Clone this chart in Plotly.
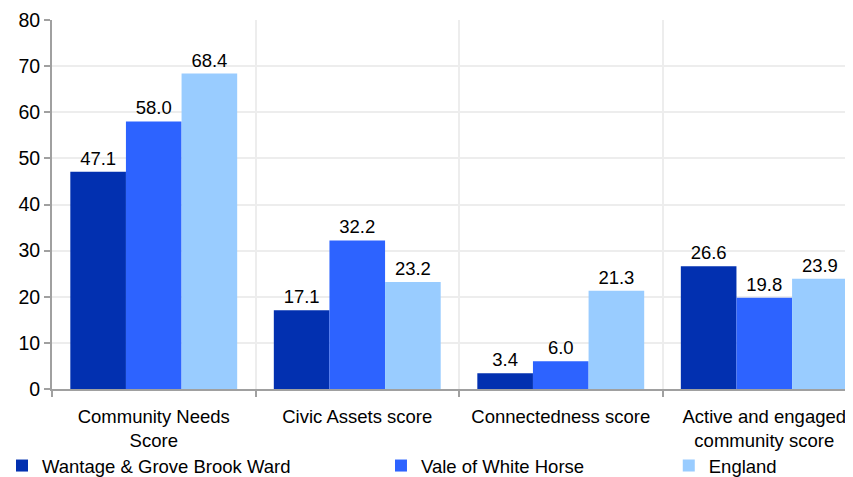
import plotly.graph_objects as go

# Categories and series values
categories = ["Community Needs<br>Score", "Civic Assets score", "Connectedness score",
              "Active and engaged<br>community score"]
ward = [47.1, 17.1, 3.4, 26.6]
vale = [58.0, 32.2, 6.0, 19.8]
england = [68.4, 23.2, 21.3, 23.9]

series = [
    ("Wantage & Grove Brook Ward", ward, "#0230B0", "legend", -0.0624),
    ("Vale of White Horse", vale, "#2D63FF", "legend2", 0.4107),
    ("England", england, "#99CCFF", "legend3", 0.770),
]

font = dict(family="Liberation Sans, Arial, sans-serif", size=18.5, color="#000000")

fig = go.Figure()
for name, vals, color, leg, _ in series:
    fig.add_trace(go.Bar(
        x=categories, y=vals, name=name, legend=leg,
        marker=dict(color=color, line=dict(width=0)),
        text=[f"{v:.1f}" for v in vals], textposition="outside",
        textfont=dict(size=18.5, color="#000000"), cliponaxis=False,
    ))

legends = {}
for name, vals, color, leg, lx in series:
    legends[leg] = dict(x=lx, y=-0.2087, xanchor="left", yanchor="middle",
                        orientation="h", font=font, bgcolor="rgba(0,0,0,0)")

# the page body adds an 8px offset, so the figure is 8px smaller than the window
fig.update_layout(
    width=845, height=469,
    margin=dict(l=44, r=0, t=12, b=88, autoexpand=False),
    paper_bgcolor="white", plot_bgcolor="white",
    font=font,
    barmode="group", bargap=0.18, bargroupgap=0,
    showlegend=True,
    **legends,
)
fig.update_xaxes(
    type="category", range=[-0.5, 3.436], tickson="boundaries",
    showgrid=True, gridcolor="#EDEDED", gridwidth=2,
    showline=True, linecolor="#A0A0A0", linewidth=2,
    ticks="outside", ticklen=6, tickcolor="#A0A0A0", tickwidth=2,
    tickfont=font, automargin=False, ticklabelstandoff=10,
)
fig.update_yaxes(
    range=[0, 80], dtick=10,
    showgrid=True, gridcolor="#EDEDED", gridwidth=2,
    showline=True, linecolor="#A0A0A0", linewidth=2,
    ticks="outside", ticklen=6, tickcolor="#A0A0A0", tickwidth=2,
    tickfont=dict(family=font["family"], size=19.5, color="#000000"),
    zeroline=False, automargin=False,
)

fig.write_html("out.html")
